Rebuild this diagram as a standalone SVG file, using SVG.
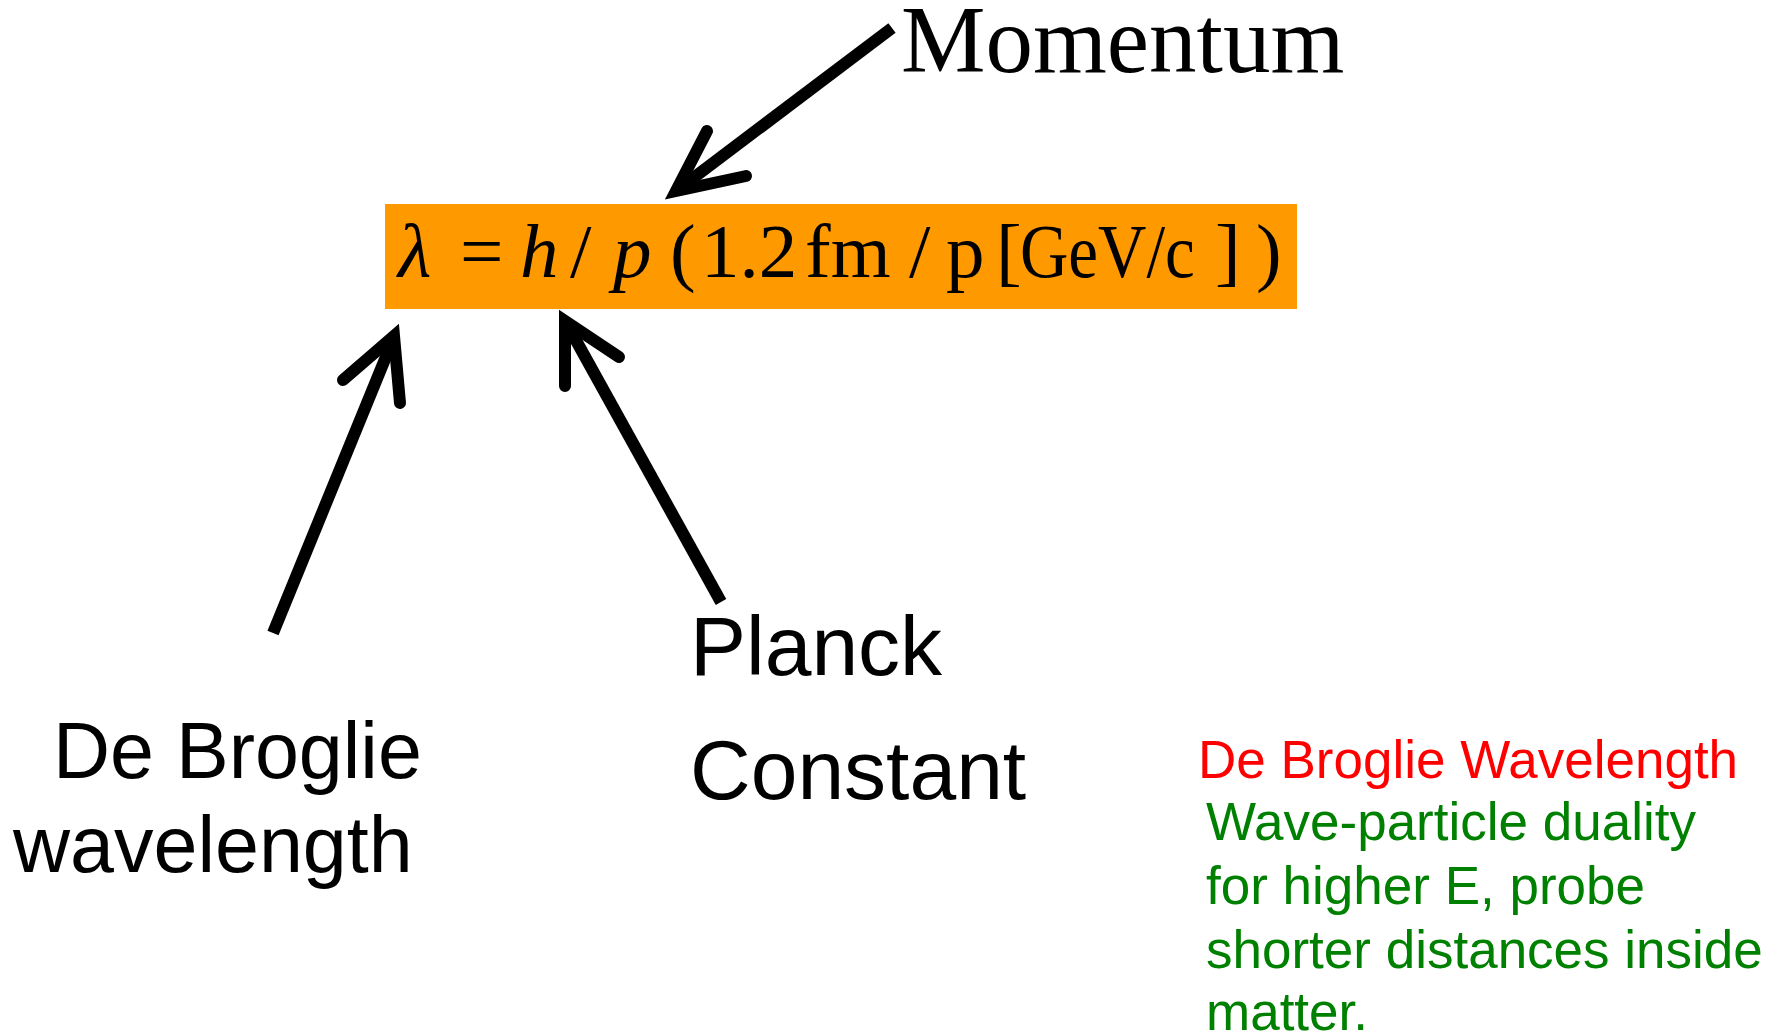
<svg xmlns="http://www.w3.org/2000/svg" width="1781" height="1036" viewBox="0 0 1781 1036">
<style>
.serif{font-family:"Liberation Serif","Times New Roman",serif;fill:#000}
.sans{font-family:"Liberation Sans",Arial,sans-serif}
.it{font-style:italic}
.arrow{fill:none;stroke:#000;stroke-width:12}
.head{fill:none;stroke:#000;stroke-width:12;stroke-linecap:round;stroke-linejoin:miter}
</style>
<rect width="1781" height="1036" fill="#fff"/>
<g id="formula">
<rect x="385" y="204" width="912" height="105" fill="#ff9900"/>
<text class="serif" font-size="77" y="277">
<tspan x="398" class="it">λ</tspan><tspan x="460">=</tspan><tspan x="520" class="it">h</tspan><tspan x="570">/</tspan><tspan x="613" class="it">p</tspan><tspan x="670">(</tspan><tspan x="701">1.2</tspan><tspan x="805">fm</tspan><tspan x="909">/</tspan><tspan x="946">p</tspan><tspan x="996">[</tspan><tspan x="1215">]</tspan><tspan x="1256">)</tspan>
</text>
<text class="serif" font-size="77" transform="translate(1020,277) scale(0.87,1)">GeV/c</text>
</g>
<g id="momentum">
<text class="serif" font-size="95" x="901" y="72">Momentum</text>
</g>
<g id="debroglie">
<text class="sans" font-size="79" fill="#000"><tspan x="53" y="778">De Broglie</tspan><tspan x="13" y="872">wavelength</tspan></text>
</g>
<g id="planck">
<text class="sans" font-size="84" fill="#000"><tspan x="690" y="675">Planck</tspan><tspan x="690" y="799">Constant</tspan></text>
</g>
<g id="note">
<text class="sans" font-size="53" fill="#ff0000" x="1198" y="778">De Broglie Wavelength</text>
<text class="sans" font-size="53" fill="#008000"><tspan x="1206" y="840">Wave-particle duality</tspan><tspan x="1206" y="904">for higher E, probe</tspan><tspan x="1206" y="968">shorter distances inside</tspan><tspan x="1206" y="1030">matter.</tspan></text>
</g>
<g id="connectors">
<line class="arrow" x1="892" y1="28" x2="680" y2="188"/>
<polyline class="head" points="707,131 676,191 746,176"/>
<line class="arrow" x1="273" y1="633" x2="392" y2="342"/>
<polyline class="head" points="343,380 394,336 400,403"/>
<line class="arrow" x1="721" y1="602" x2="568" y2="326"/>
<polyline class="head" points="565,386 565,321 619,357"/>
</g>
</svg>
